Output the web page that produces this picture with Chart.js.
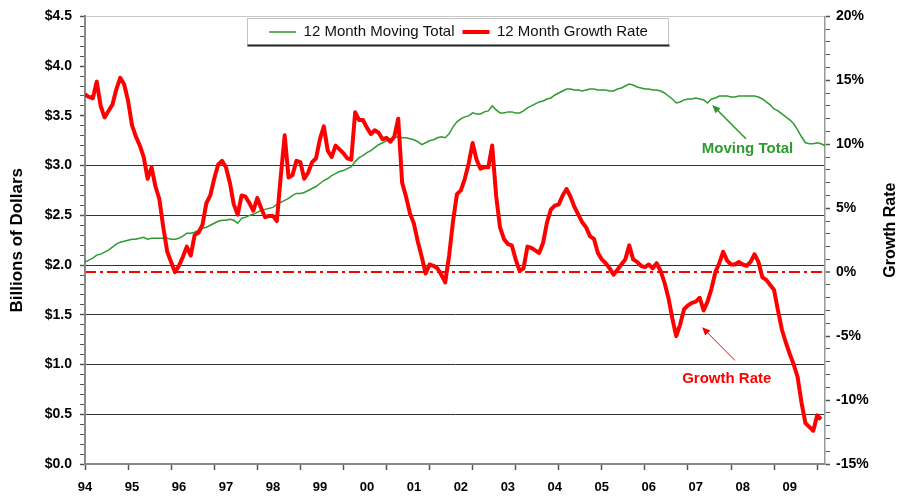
<!DOCTYPE html>
<html>
<head>
<meta charset="utf-8">
<title>12 Month Moving Total and Growth Rate</title>
<script src="https://cdn.jsdelivr.net/npm/chart.js@4.4.1/dist/chart.umd.min.js"></script>
<style>
    html, body { margin: 0; padding: 0; background: #fff; }
    #wrap { width: 903px; height: 500px; }
</style>
</head>
<body>
<div id="wrap"><canvas id="salesChart" width="903" height="500"></canvas></div>
<script>
// year labels on the bottom axis, one per January (month 0 = Jan 94)
const yearLabels = ['94', '95', '96', '97', '98', '99', '00', '01',
    '02', '03', '04', '05', '06', '07', '08', '09'];

// 12 month moving total, billions of dollars, monthly from Jan 94
const movingTotal = [
    2.03, 2.05, 2.07, 2.10, 2.11, 2.13, 2.15, 2.18, 2.21, 2.23,
    2.24, 2.25, 2.26, 2.26, 2.27, 2.28, 2.26, 2.27, 2.27, 2.27,
    2.27, 2.27, 2.26, 2.26, 2.27, 2.29, 2.32, 2.32, 2.33, 2.35,
    2.37, 2.38, 2.40, 2.42, 2.44, 2.45, 2.45, 2.46, 2.45, 2.42,
    2.47, 2.48, 2.50, 2.51, 2.53, 2.55, 2.56, 2.57, 2.58, 2.61,
    2.63, 2.65, 2.67, 2.70, 2.72, 2.72, 2.73, 2.75, 2.77, 2.79,
    2.82, 2.85, 2.87, 2.90, 2.92, 2.94, 2.95, 2.97, 2.99, 3.04,
    3.08, 3.10, 3.13, 3.15, 3.18, 3.21, 3.23, 3.25, 3.27, 3.28,
    3.29, 3.28, 3.28, 3.27, 3.26, 3.24, 3.21, 3.23, 3.25, 3.26,
    3.28, 3.29, 3.28, 3.32, 3.39, 3.44, 3.47, 3.49, 3.50, 3.53,
    3.52, 3.52, 3.54, 3.55, 3.60, 3.56, 3.53, 3.53, 3.54, 3.54,
    3.53, 3.53, 3.55, 3.58, 3.60, 3.62, 3.64, 3.65, 3.67, 3.68,
    3.71, 3.73, 3.75, 3.77, 3.77, 3.76, 3.76, 3.75, 3.76, 3.77,
    3.77, 3.76, 3.76, 3.76, 3.75, 3.75, 3.77, 3.78, 3.80, 3.82,
    3.81, 3.79, 3.78, 3.77, 3.77, 3.76, 3.76, 3.75, 3.73, 3.70,
    3.67, 3.63, 3.64, 3.66, 3.67, 3.67, 3.68, 3.67, 3.66, 3.63,
    3.67, 3.68, 3.70, 3.70, 3.70, 3.69, 3.69, 3.70, 3.70, 3.70,
    3.70, 3.70, 3.69, 3.67, 3.64, 3.61, 3.57, 3.55, 3.52, 3.49,
    3.46, 3.42, 3.36, 3.29, 3.23, 3.22, 3.22, 3.23, 3.22, 3.20
];

// 12 month growth rate, percent, monthly from Jan 94
const growthRate = [
    13.9, 13.7, 13.6, 14.9, 13.0, 12.1, 12.6, 13.1, 14.3, 15.2,
    14.7, 13.4, 11.5, 10.6, 9.9, 9.0, 7.3, 8.2, 6.7, 5.7,
    3.5, 1.6, 0.8, 0.0, 0.5, 1.2, 2.0, 1.3, 2.9, 3.1,
    3.7, 5.4, 6.0, 7.3, 8.4, 8.7, 8.2, 7.0, 5.3, 4.5,
    6.0, 5.9, 5.4, 4.8, 5.8, 5.0, 4.3, 4.4, 4.4, 4.0,
    7.5, 10.7, 7.4, 7.6, 8.7, 8.6, 7.3, 7.8, 8.6, 8.9,
    10.4, 11.4, 9.5, 9.0, 9.9, 9.6, 9.3, 8.9, 8.8, 12.5,
    11.9, 11.9, 11.3, 10.8, 11.1, 10.9, 10.4, 10.5, 10.2, 10.6,
    12.0, 7.0, 5.9, 4.6, 3.8, 2.4, 1.2, -0.1, 0.6, 0.5,
    0.3, -0.2, -0.8, 1.3, 4.0, 6.1, 6.4, 7.3, 8.5, 10.1,
    8.8, 8.1, 8.2, 8.2, 9.9, 6.0, 3.5, 2.6, 2.2, 2.1,
    1.0, 0.1, 0.3, 2.0, 1.9, 1.7, 1.5, 2.3, 3.9, 4.9,
    5.2, 5.3, 6.0, 6.5, 5.9, 5.1, 4.5, 3.9, 3.5, 2.8,
    2.6, 1.5, 1.0, 0.7, 0.3, -0.2, 0.2, 0.6, 1.0, 2.1,
    1.0, 0.8, 0.5, 0.4, 0.6, 0.3, 0.7, 0.1, -0.8, -2.0,
    -3.6, -5.0, -4.1, -2.9, -2.6, -2.4, -2.3, -2.0, -3.0, -2.3,
    -1.3, 0.0, 0.7, 1.6, 0.9, 0.6, 0.6, 0.8, 0.6, 0.5,
    0.8, 1.4, 0.8, -0.4, -0.6, -1.0, -1.4, -3.0, -4.5, -5.5,
    -6.4, -7.2, -8.2, -10.2, -11.8, -12.1, -12.4, -11.2, -11.5
];

// month index of every point (0 = Jan 94)
const months = movingTotal.map(function (v, i) { return i; });

const greenColor = '#2f9a2f';
const redColor = '#ff0000';
const fontFamily = 'Arial, "Liberation Sans", sans-serif';

// callouts, placed in data units of the axis they point at
const notes = [
    { text: 'Moving Total', color: greenColor, axis: 'y', at: [169.2, 3.17], from: [168.8, 3.27], to: [160.2, 3.61], width: 1.6 },
    { text: 'Growth Rate', color: redColor, axis: 'y2', at: [163.9, -8.32], from: [166.0, -6.9], to: [157.6, -4.3], width: 1 }
];

function isHalf(v) {
    return Math.abs(v * 2 - Math.round(v * 2)) < 1e-6;
}

// legend sits inside the plot, in a framed box
const legendInside = {
    id: 'legendInside',
    afterInit: function (chart) {
        const legend = chart.legend;
        const fit = legend.fit;
        legend.fit = function () {
            fit.call(this);
            this.realHeight = this.height;
            this.height = 0;
        };
    },
    afterLayout: function (chart) {
        const legend = chart.legend;
        legend.height = legend.realHeight;
        legend.bottom = legend.top + legend.height;
        legend.left += 7;
        legend.right += 7;
    },
    beforeDraw: function (chart) {
        const boxes = chart.legend.legendHitBoxes;
        if (!boxes || !boxes.length) return;
        let left = Infinity, right = -Infinity;
        boxes.forEach(function (b) {
            left = Math.min(left, b.left);
            right = Math.max(right, b.left + b.width);
        });
        const cy = boxes[0].top + boxes[0].height / 2;
        const x1 = Math.round(left - 22) + 0.5, x2 = Math.round(right + 20) + 0.5;
        const y1 = Math.round(cy - 14) + 0.5, y2 = Math.round(cy + 13) + 0.5;
        const ctx = chart.ctx;
        ctx.save();
        ctx.fillStyle = '#fff';
        ctx.fillRect(x1, y1, x2 - x1, y2 - y1);
        ctx.strokeStyle = '#c4c4c4';
        ctx.lineWidth = 1;
        ctx.strokeRect(x1, y1, x2 - x1, y2 - y1);
        ctx.strokeStyle = '#222';
        ctx.lineWidth = 2;
        ctx.beginPath();
        ctx.moveTo(x1, y2);
        ctx.lineTo(x2 + 1, y2);
        ctx.stroke();
        ctx.restore();
    }
};

const notesPlugin = {
    id: 'notes',
    afterDatasetsDraw: function (chart) {
        const ctx = chart.ctx;
        const xs = chart.scales.x;
        notes.forEach(function (n) {
            const ys = chart.scales[n.axis];
            const x1 = xs.getPixelForValue(n.from[0]), y1 = ys.getPixelForValue(n.from[1]);
            const x2 = xs.getPixelForValue(n.to[0]), y2 = ys.getPixelForValue(n.to[1]);
            const a = Math.atan2(y2 - y1, x2 - x1);
            const len = 9, spread = 0.42;
            ctx.save();
            ctx.strokeStyle = n.color;
            ctx.fillStyle = n.color;
            ctx.lineWidth = n.width;
            ctx.beginPath();
            ctx.moveTo(x1, y1);
            ctx.lineTo(x2 - 5 * Math.cos(a), y2 - 5 * Math.sin(a));
            ctx.stroke();
            ctx.beginPath();
            ctx.moveTo(x2, y2);
            ctx.lineTo(x2 - len * Math.cos(a - spread), y2 - len * Math.sin(a - spread));
            ctx.lineTo(x2 - len * Math.cos(a + spread), y2 - len * Math.sin(a + spread));
            ctx.closePath();
            ctx.fill();
            ctx.font = 'bold 15px ' + fontFamily;
            ctx.textAlign = 'center';
            ctx.textBaseline = 'middle';
            ctx.fillText(n.text, xs.getPixelForValue(n.at[0]), ys.getPixelForValue(n.at[1]));
            ctx.restore();
        });

        // right axis title reads bottom to top, like the left one
        const area = chart.chartArea;
        ctx.save();
        ctx.translate(chart.width - 12, (area.top + area.bottom) / 2 - 10);
        ctx.rotate(-Math.PI / 2);
        ctx.font = 'bold 16px ' + fontFamily;
        ctx.fillStyle = '#000';
        ctx.textAlign = 'center';
        ctx.textBaseline = 'middle';
        ctx.fillText('Growth Rate', 0, 0);
        ctx.restore();
    }
};

const tickFont = { family: fontFamily, size: 14, weight: 'bold' };

const chart = new Chart(document.getElementById('salesChart'), {
    type: 'line',
    data: {
        labels: months,
        datasets: [{
            label: '12 Month Moving Total',
            data: movingTotal,
            xAxisID: 'x',
            yAxisID: 'y',
            borderColor: greenColor,
            backgroundColor: greenColor,
            borderWidth: 1.5,
            pointRadius: 0,
            pointHoverRadius: 0,
            pointBorderWidth: 1.5,
            pointStyle: 'line',
            tension: 0,
            order: 1
        }, {
            label: '12 Month Growth Rate',
            data: growthRate,
            xAxisID: 'x',
            yAxisID: 'y2',
            borderColor: redColor,
            backgroundColor: redColor,
            borderWidth: 4,
            borderJoinStyle: 'round',
            pointRadius: 0,
            pointHoverRadius: 0,
            pointBorderWidth: 4,
            pointStyle: 'line',
            tension: 0,
            order: 0
        }]
    },
    options: {
        responsive: false,
        animation: false,
        devicePixelRatio: 1,
        layout: { padding: { top: 16, left: 0, right: 0, bottom: 0 } },
        plugins: {
            legend: {
                position: 'top',
                labels: {
                    usePointStyle: true,
                    pointStyleWidth: 27,
                    padding: 8,
                    color: '#111',
                    font: { family: fontFamily, size: 15 },
                    sort: function (a, b) { return a.datasetIndex - b.datasetIndex; }
                }
            },
            tooltip: { enabled: false }
        },
        scales: {
            x: {
                type: 'linear',
                position: 'bottom',
                weight: 1,
                min: 0,
                max: 189,
                grid: { display: false, drawTicks: false },
                border: { display: false },
                ticks: {
                    stepSize: 12,
                    includeBounds: false,
                    autoSkip: false,
                    maxRotation: 0,
                    padding: 9,
                    color: '#000',
                    font: { family: fontFamily, size: 13, weight: 'bold' },
                    callback: function (v, i) { return yearLabels[i]; }
                },
                afterFit: function (s) { s.height = 29; }
            },
            xt: {
                type: 'linear',
                position: 'bottom',
                weight: 0,
                min: 0,
                max: 189,
                grid: { drawOnChartArea: false, tickLength: 6, tickColor: '#555', tickWidth: 1.5 },
                border: { color: '#888', width: 2 },
                ticks: { display: false, stepSize: 11, includeBounds: false, autoSkip: false },
                afterFit: function (s) { s.height = 7; }
            },
            xtop: {
                type: 'linear',
                position: 'top',
                min: 0,
                max: 189,
                grid: { display: false, drawTicks: false },
                border: { color: '#c8c8c8', width: 1 },
                ticks: { display: false },
                afterFit: function (s) { s.height = 0; }
            },
            y: {
                position: 'left',
                min: 0,
                max: 4.5,
                ticks: {
                    stepSize: 0.1,
                    autoSkip: false,
                    padding: 8,
                    color: '#000',
                    font: tickFont,
                    callback: function (v) { return isHalf(v) ? '$' + v.toFixed(1) : ''; }
                },
                grid: {
                    color: function (c) {
                        const v = c.tick ? c.tick.value : -1;
                        return (isHalf(v) && v > 0.49 && v < 3.01) ? '#333' : 'rgba(0,0,0,0)';
                    },
                    lineWidth: 1,
                    tickColor: '#555',
                    tickLength: 5,
                    tickWidth: function (c) { return c.tick && isHalf(c.tick.value) ? 1.5 : 1; }
                },
                border: { color: '#888', width: 2 },
                title: {
                    display: true,
                    text: 'Billions of Dollars',
                    color: '#000',
                    font: { family: fontFamily, size: 17, weight: 'bold' },
                    padding: { top: 7, bottom: 0 }
                },
                afterFit: function (s) { s.width = 85; }
            },
            y2: {
                position: 'right',
                min: -15,
                max: 20,
                ticks: {
                    stepSize: 1,
                    autoSkip: false,
                    padding: 6,
                    color: '#000',
                    font: tickFont,
                    callback: function (v) { return Math.round(v) % 5 === 0 ? Math.round(v) + '%' : ''; }
                },
                grid: {
                    color: function (c) { return c.tick && c.tick.value === 0 ? redColor : 'rgba(0,0,0,0)'; },
                    lineWidth: function (c) { return c.tick && c.tick.value === 0 ? 2 : 1; },
                    tickColor: '#555',
                    tickLength: 5,
                    tickWidth: function (c) { return c.tick && c.tick.value % 5 === 0 ? 1.5 : 1; }
                },
                border: {
                    color: '#999',
                    width: 1.5,
                    dash: function (c) { return c.tick && c.tick.value === 0 ? [11, 4, 3, 4] : []; }
                },
                afterFit: function (s) { s.width = 78; }
            }
        }
    },
    plugins: [legendInside, notesPlugin]
});
</script>
</body>
</html>
